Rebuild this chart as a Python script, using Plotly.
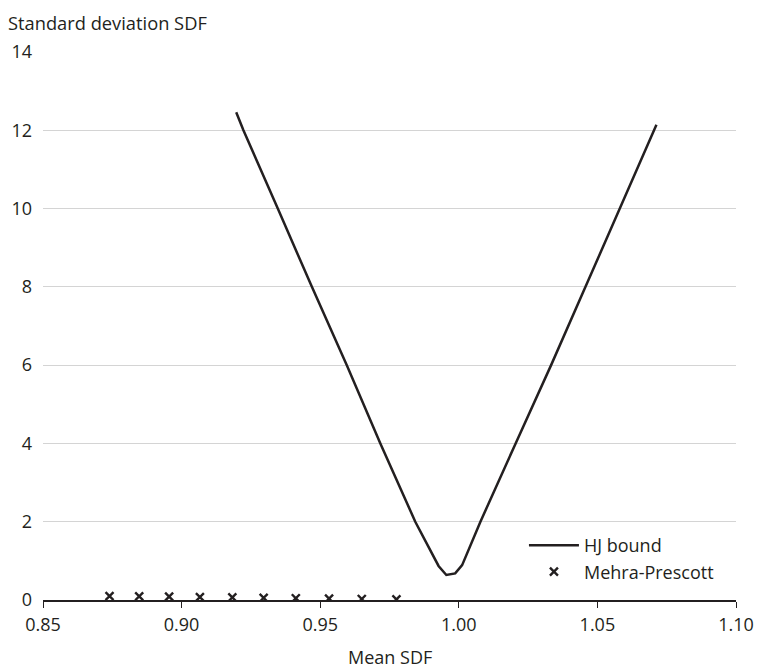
import plotly.graph_objects as go

# HJ bound (mean SDF, std SDF)
hj_mean = [0.9197, 0.9223, 0.9347, 0.9470, 0.9596, 0.9717, 0.9843, 0.9927, 0.9955,
           0.9987, 1.0012, 1.0078, 1.0205, 1.0333, 1.0457, 1.0580, 1.0702, 1.0713]
hj_std = [12.46, 12.0, 10.0, 8.0, 6.0, 4.0, 2.0, 0.87, 0.64,
          0.68, 0.89, 2.0, 4.0, 6.0, 8.0, 10.0, 12.0, 12.14]

# Mehra-Prescott points
mp_mean = [0.8740, 0.8847, 0.8955, 0.9066, 0.9183, 0.9296, 0.9412, 0.9532, 0.9650, 0.9775]
mp_std = [0.10, 0.095, 0.085, 0.075, 0.065, 0.055, 0.045, 0.035, 0.025, 0.015]

x_ticks = [0.85, 0.90, 0.95, 1.00, 1.05, 1.10]
x_tick_labels = ["0.85", "0.90", "0.95", "1.00", "1.05", "1.10"]
y_ticks = [0, 2, 4, 6, 8, 10, 12, 14]

INK = "#231f20"
FONT = "Open Sans"

fig = go.Figure()
fig.add_trace(go.Scatter(x=hj_mean, y=hj_std, mode="lines", name="HJ bound",
                         legendgroup="a",
                         line=dict(color=INK, width=2.5)))
fig.add_trace(go.Scatter(x=mp_mean, y=mp_std, mode="markers", name="Mehra-Prescott",
                         legendgroup="b",
                         marker=dict(symbol="x-thin", size=8, color=INK,
                                     line=dict(color=INK, width=2.4))))

fig.update_layout(
    width=758, height=668,
    margin=dict(l=43, r=22, t=52, b=68),
    paper_bgcolor="white", plot_bgcolor="white",
    font=dict(family=FONT, size=18, color=INK),
    showlegend=True,
    legend=dict(x=0.694, y=0.133, xanchor="left", yanchor="top",
                bgcolor="rgba(0,0,0,0)", font=dict(size=18, color=INK),
                itemwidth=50, tracegroupgap=0),
    xaxis=dict(range=[0.85, 1.10], tickvals=x_ticks, ticktext=x_tick_labels,
               automargin=False,
               showgrid=False, zeroline=False, showline=True, linecolor=INK,
               linewidth=1.5, ticks="outside", ticklen=6, tickcolor=INK,
               ticklabelstandoff=2,
               tickfont=dict(size=18, color=INK)),
    yaxis=dict(range=[0, 14], tickvals=y_ticks, showgrid=True, gridcolor="#d4d4d4",
               automargin=False,
               gridwidth=1, zeroline=False, showline=False, ticks="",
               ticklabelstandoff=10,
               tickfont=dict(size=18, color=INK)),
    annotations=[
        dict(text="Standard deviation SDF", xref="paper", yref="paper",
             x=-0.053, y=1.0547, xanchor="left", yanchor="middle",
             showarrow=False, font=dict(size=18.3, color=INK)),
        dict(text="Mean SDF", xref="paper", yref="paper",
             x=0.5, y=-0.104, xanchor="center", yanchor="middle",
             showarrow=False, font=dict(size=18, color=INK)),
    ],
)

fig.write_html("out.html", config={"displayModeBar": False},
               post_script="document.body.style.margin='0';")
